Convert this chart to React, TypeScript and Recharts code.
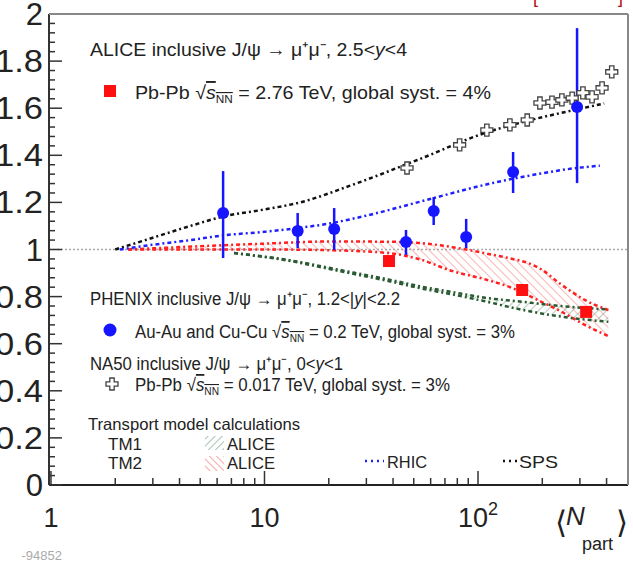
import React from "react";
import { ComposedChart, XAxis, YAxis, Line, Area, Scatter, ErrorBar, ReferenceLine } from "recharts";

const FONT = "'Liberation Sans', Arial, Helvetica, sans-serif";
const W = 633;
const H = 564;
const PLOT_LEFT = 49;
const PLOT_BOTTOM = 485;

// PHENIX Au-Au and Cu-Cu, sqrt(sNN) = 0.2 TeV
const phenixNpart = [6.4, 14.3, 21.2, 46, 62, 88, 146, 291];
const phenixR = [1.155, 1.079, 1.087, 1.032, 1.163, 1.053, 1.329, 1.605];
const phenixErrLo = [0.191, 0.073, 0.089, 0.055, 0.059, 0.047, 0.089, 0.323];
const phenixErrHi = [0.178, 0.076, 0.089, 0.051, 0.06, 0.077, 0.085, 0.335];

// ALICE Pb-Pb 2.76 TeV
const aliceNpart = [38.3, 161, 321];
const aliceR = [0.951, 0.828, 0.735];

// NA50 Pb-Pb 0.017 TeV
const na50Npart = [46.5, 82, 110, 141, 170, 195, 222, 247, 276, 310, 342, 381, 423];
const na50R = [1.346, 1.444, 1.507, 1.529, 1.55, 1.622, 1.626, 1.635, 1.643, 1.665, 1.648, 1.686, 1.754];

// transport model curves
const spsNpart = [2, 3, 4.5, 6.4, 10, 14.7, 25, 52, 108, 177, 275, 390];
const spsR = [1.0, 1.05, 1.1, 1.14, 1.17, 1.2, 1.27, 1.38, 1.495, 1.55, 1.59, 1.62];

const rhicNpart = [2.1, 3, 4.5, 6.4, 10, 14, 20, 32, 52, 80, 108, 177, 283, 372];
const rhicR = [1.0, 1.02, 1.04, 1.06, 1.075, 1.09, 1.11, 1.15, 1.2, 1.245, 1.275, 1.315, 1.345, 1.356];

const tm2Npart = [2.3, 5, 10, 20, 38, 52.6, 76, 108, 145, 172, 200, 238, 270, 316, 408];
const tm2Hi = [1.0, 1.014, 1.025, 1.034, 1.033, 1.028, 1.01, 0.984, 0.96, 0.942, 0.913, 0.86, 0.825, 0.786, 0.743];
const tm2Lo = [1.0, 1.0, 1.0, 0.997, 0.985, 0.96, 0.908, 0.873, 0.836, 0.805, 0.776, 0.743, 0.715, 0.68, 0.632];

const tm1Npart = [7.2, 13, 22, 38, 54, 75, 108, 153, 245, 408];
const tm1Hi = [0.985, 0.955, 0.915, 0.873, 0.843, 0.82, 0.795, 0.78, 0.76, 0.745];
const tm1Lo = [0.985, 0.952, 0.91, 0.866, 0.835, 0.81, 0.78, 0.748, 0.715, 0.693];

const xTicks = [1, 2, 3, 4, 5, 6, 7, 8, 9, 10, 20, 30, 40, 50, 60, 70, 80, 90, 100, 200, 300, 400];
const yTicks = Array.from({ length: 51 }, (_, i) => Math.round(i * 4) / 100);

const phenix = phenixNpart.map((n, i) => ({ n, r: phenixR[i], err: [phenixErrLo[i], phenixErrHi[i]] }));
const alice = aliceNpart.map((n, i) => ({ n, r: aliceR[i] }));
const na50 = na50Npart.map((n, i) => ({ n, r: na50R[i] }));
const sps = spsNpart.map((n, i) => ({ n, r: spsR[i] }));
const rhic = rhicNpart.map((n, i) => ({ n, r: rhicR[i] }));
const tm2 = tm2Npart.map((n, i) => ({ n, lo: tm2Lo[i], hi: tm2Hi[i], band: [tm2Lo[i], tm2Hi[i]] }));
const tm1 = tm1Npart.map((n, i) => ({ n, lo: tm1Lo[i], hi: tm1Hi[i], band: [tm1Lo[i], tm1Hi[i]] }));

const DASHDOT = "4 3 2 3";

const yLabel = (v: number) => (v === 0 ? "0" : v === 1 ? "1" : v === 2 ? "2" : v.toFixed(1));

const YTick = ({ y, payload }: any) => {
  const v = payload.value;
  const major = Math.abs(v * 5 - Math.round(v * 5)) < 1e-6;
  const label = yLabel(v);
  return (
    <g>
      <line x1={PLOT_LEFT} x2={PLOT_LEFT + (major ? 13 : 6)} y1={y} y2={y} stroke="#333" strokeWidth={1.5} />
      {major && (
        <text
          x={43}
          y={y + 11}
          textAnchor="end"
          fontSize={31}
          fill="#222"
          fontFamily={FONT}
          {...(label.length > 1 ? { textLength: 48, lengthAdjust: "spacingAndGlyphs" } : {})}
        >
          {label}
        </text>
      )}
    </g>
  );
};

const XTick = ({ x, payload }: any) => {
  const v = payload.value;
  const major = v === 1 || v === 10 || v === 100;
  return (
    <g>
      <line x1={x} x2={x} y1={PLOT_BOTTOM} y2={PLOT_BOTTOM - (major ? 14 : 7)} stroke="#333" strokeWidth={1.5} />
      {major && (
        <text x={x} y={527} textAnchor="middle" fontSize={27} fill="#222" fontFamily={FONT}>
          {v === 100 ? (
            <>
              10<tspan dy={-12} fontSize={18}>2</tspan>
            </>
          ) : (
            String(v)
          )}
        </text>
      )}
    </g>
  );
};

const Dot = ({ cx, cy }: any) => <circle cx={cx} cy={cy} r={6} fill="#1515ff" />;
const Square = ({ cx, cy }: any) => <rect x={cx - 6} y={cy - 6} width={12} height={12} fill="#ff1010" />;
const crossPath = (cx: number, cy: number, s = 6, a = 2.2) =>
  `M${cx - a},${cy - s} H${cx + a} V${cy - a} H${cx + s} V${cy + a} H${cx + a} V${cy + s} H${cx - a} V${cy + a} H${cx - s} V${cy - a} H${cx - a} Z`;
const OpenCross = ({ cx, cy }: any) => <path d={crossPath(cx, cy)} fill="#fff" stroke="#444" strokeWidth={1.3} />;

const sNN = (
  <>
    √<tspan fontStyle="italic" style={{ textDecoration: "overline" }}>s</tspan>
    <tspan fontSize="0.6em" dy={4} style={{ textDecoration: "overline" }}>NN</tspan>
    <tspan dy={-4}> </tspan>
  </>
);

function Overlay() {
  const t = { fontFamily: FONT, fill: "#222" };
  return (
    <svg width={W} height={H} style={{ position: "absolute", left: 0, top: 0, pointerEvents: "none" }}>
      <defs>
        <pattern id="lgRed" width="5" height="5" patternUnits="userSpaceOnUse" patternTransform="rotate(-45)">
          <line x1="0" y1="0" x2="0" y2="5" stroke="#f07070" strokeWidth="1.2" />
        </pattern>
        <pattern id="lgGreen" width="5" height="5" patternUnits="userSpaceOnUse" patternTransform="rotate(45)">
          <line x1="0" y1="0" x2="0" y2="5" stroke="#6a9a7a" strokeWidth="1.2" />
        </pattern>
      </defs>
      {/* frame top / right */}
      <line x1={PLOT_LEFT} x2={628} y1={14} y2={14} stroke="#888" strokeWidth={2} />
      <line x1={628} x2={628} y1={14} y2={PLOT_BOTTOM} stroke="#888" strokeWidth={2} />

      <text x={533} y={3} fontSize={18} fill="#b01010" fontFamily={FONT}>[</text>
      <text x={618} y={3} fontSize={18} fill="#b01010" fontFamily={FONT}>]</text>
      <text x={62} y={560} textAnchor="end" fontSize={13} fill="#aaa" fontFamily={FONT}>-94852</text>

      <text x={90} y={56} fontSize={19} textLength={317} lengthAdjust="spacingAndGlyphs" {...t}>
        ALICE inclusive J/ψ → μ⁺μ⁻, 2.5&lt;<tspan fontStyle="italic">y</tspan>&lt;4
      </text>
      <rect x={104} y={85} width={12} height={12} fill="#ff1010" />
      <text x={135} y={99} fontSize={19} textLength={356} lengthAdjust="spacingAndGlyphs" {...t}>
        Pb-Pb {sNN}= 2.76 TeV, global syst. = 4%
      </text>

      <text x={90} y={305} fontSize={18} textLength={310} lengthAdjust="spacingAndGlyphs" {...t}>
        PHENIX inclusive J/ψ → μ⁺μ⁻, 1.2&lt;|<tspan fontStyle="italic">y</tspan>|&lt;2.2
      </text>
      <circle cx={110} cy={330} r={6.5} fill="#1515ff" />
      <text x={135} y={338} fontSize={18} textLength={380} lengthAdjust="spacingAndGlyphs" {...t}>
        Au-Au and Cu-Cu {sNN}= 0.2 TeV, global syst. = 3%
      </text>

      <text x={90} y={370} fontSize={18} textLength={253} lengthAdjust="spacingAndGlyphs" {...t}>
        NA50 inclusive J/ψ → μ⁺μ⁻, 0&lt;<tspan fontStyle="italic">y</tspan>&lt;1
      </text>
      <path d={crossPath(112, 384)} fill="#fff" stroke="#444" strokeWidth={1.3} />
      <text x={135} y={391} fontSize={18} textLength={315} lengthAdjust="spacingAndGlyphs" {...t}>
        Pb-Pb {sNN}= 0.017 TeV, global syst. = 3%
      </text>

      <text x={88} y={430} fontSize={16.5} textLength={212} lengthAdjust="spacingAndGlyphs" {...t}>
        Transport model calculations
      </text>
      <text x={108} y={450} fontSize={17} textLength={34} lengthAdjust="spacingAndGlyphs" {...t}>TM1</text>
      <text x={108} y={469} fontSize={17} textLength={34} lengthAdjust="spacingAndGlyphs" {...t}>TM2</text>
      <rect x={205} y={436} width={19} height={14} fill="url(#lgGreen)" />
      <rect x={205} y={456} width={19} height={15} fill="url(#lgRed)" />
      <text x={227} y={450} fontSize={17} textLength={48} lengthAdjust="spacingAndGlyphs" {...t}>ALICE</text>
      <text x={227} y={469} fontSize={17} textLength={48} lengthAdjust="spacingAndGlyphs" {...t}>ALICE</text>

      <line x1={365} x2={384} y1={461} y2={461} stroke="#2020ff" strokeWidth={2.5} strokeDasharray="2 4" />
      <text x={387} y={468} fontSize={17} textLength={40} lengthAdjust="spacingAndGlyphs" {...t}>RHIC</text>
      <line x1={503} x2={518} y1={461} y2={461} stroke="#111" strokeWidth={2.5} strokeDasharray="2 4" />
      <text x={519} y={468} fontSize={17} textLength={39} lengthAdjust="spacingAndGlyphs" {...t}>SPS</text>

      {/* x axis title */}
      <text x={555} y={533} fontSize={31} {...t} fontWeight={300}>⟨</text>
      <text x={566} y={525} fontSize={26} fontStyle="italic" {...t}>N</text>
      <text x={582} y={550} fontSize={18} {...t}>part</text>
      <text x={616} y={533} fontSize={31} {...t} fontWeight={300}>⟩</text>
    </svg>
  );
}

export default function App() {
  return (
    <div style={{ position: "absolute", left: 0, top: 0, width: W, height: H, background: "#fff" }}>
      <ComposedChart width={W} height={H} margin={{ top: 14, right: 5, bottom: 0, left: 0 }}>
        <defs>
          <pattern id="hatchRed" width="6" height="6" patternUnits="userSpaceOnUse" patternTransform="rotate(-45)">
            <line x1="0" y1="0" x2="0" y2="6" stroke="#f49090" strokeWidth="1.3" />
          </pattern>
          <pattern id="hatchGreen" width="6" height="6" patternUnits="userSpaceOnUse" patternTransform="rotate(45)">
            <line x1="0" y1="0" x2="0" y2="6" stroke="#7fa88a" strokeWidth="1.2" />
          </pattern>
        </defs>
        <XAxis
          dataKey="n"
          type="number"
          scale="log"
          domain={[0.979, 504]}
          allowDataOverflow
          ticks={xTicks}
          interval={0}
          tick={<XTick />}
          tickLine={false}
          axisLine={{ stroke: "#222", strokeWidth: 2 }}
          height={79}
        />
        <YAxis
          type="number"
          domain={[0, 2]}
          ticks={yTicks}
          interval={0}
          tick={<YTick />}
          tickLine={false}
          axisLine={{ stroke: "#333", strokeWidth: 2 }}
          width={49}
          allowDataOverflow
        />
        <ReferenceLine y={1} stroke="#aaa" strokeWidth={1.5} strokeDasharray="2 2" />

        <Area data={tm2} dataKey="band" type="monotone" stroke="none" fill="url(#hatchRed)" fillOpacity={1} isAnimationActive={false} />
        <Area data={tm1} dataKey="band" type="monotone" stroke="none" fill="url(#hatchGreen)" fillOpacity={1} isAnimationActive={false} />

        <Line data={tm2} dataKey="hi" type="monotone" stroke="#ff2020" strokeWidth={2.5} strokeDasharray={DASHDOT} dot={false} isAnimationActive={false} />
        <Line data={tm2} dataKey="lo" type="monotone" stroke="#ff2020" strokeWidth={2.5} strokeDasharray={DASHDOT} dot={false} isAnimationActive={false} />
        <Line data={tm1} dataKey="hi" type="monotone" stroke="#2a5a32" strokeWidth={2.5} strokeDasharray={DASHDOT} dot={false} isAnimationActive={false} />
        <Line data={tm1} dataKey="lo" type="monotone" stroke="#2a5a32" strokeWidth={2.5} strokeDasharray={DASHDOT} dot={false} isAnimationActive={false} />
        <Line data={rhic} dataKey="r" type="monotone" stroke="#2020ff" strokeWidth={2.5} strokeDasharray={DASHDOT} dot={false} isAnimationActive={false} />
        <Line data={sps} dataKey="r" type="monotone" stroke="#111" strokeWidth={2.5} strokeDasharray={DASHDOT} dot={false} isAnimationActive={false} />

        <Scatter data={na50} dataKey="r" shape={<OpenCross />} isAnimationActive={false} />
        <Scatter data={phenix} dataKey="r" shape={<Dot />} isAnimationActive={false}>
          <ErrorBar dataKey="err" direction="y" width={0} stroke="#1515ff" strokeWidth={2.5} />
        </Scatter>
        <Scatter data={alice} dataKey="r" shape={<Square />} isAnimationActive={false} />
      </ComposedChart>
      <Overlay />
    </div>
  );
}
